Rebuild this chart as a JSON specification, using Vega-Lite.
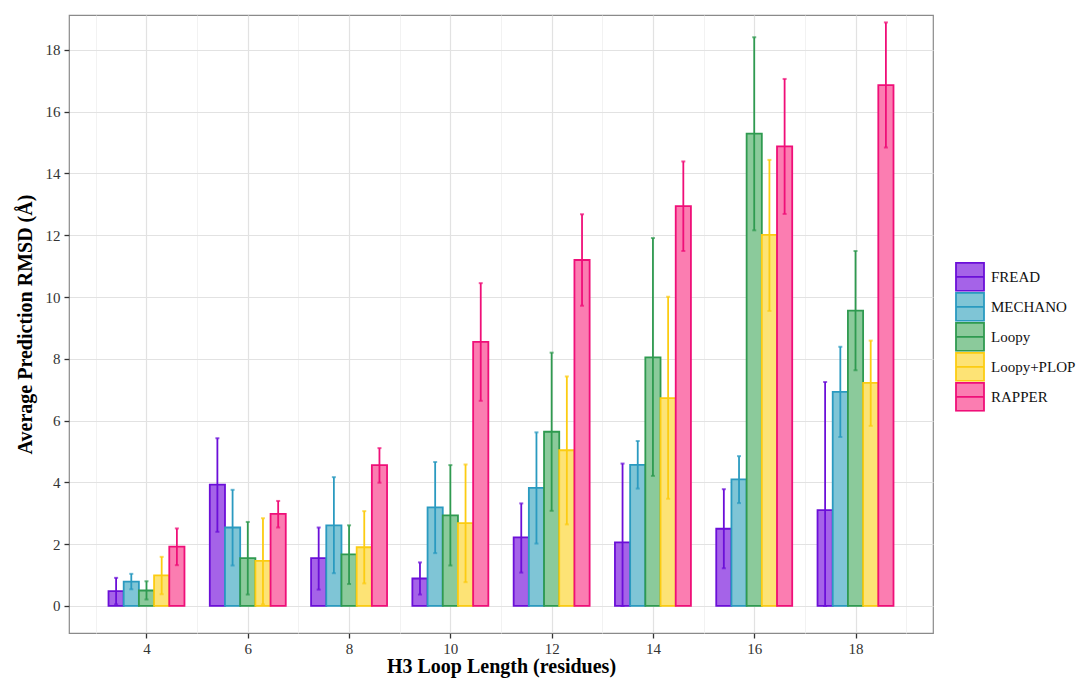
{
  "$schema": "https://vega.github.io/schema/vega-lite/v6.json",
  "width": 864,
  "height": 618,
  "autosize": {"type": "none"},
  "padding": {"left": 69, "top": 15, "right": 151, "bottom": 46},
  "background": "white",
  "config": {
    "view": {"stroke": "#8a8a8a", "strokeWidth": 1.2},
    "font": "Liberation Serif",
    "axis": {
      "domain": false,
      "labelFont": "Liberation Serif",
      "labelFontSize": 15,
      "labelColor": "#333333",
      "tickColor": "#333333",
      "tickSize": 5,
      "tickWidth": 1.3,
      "titleFont": "Liberation Serif",
      "titleFontSize": 20,
      "titleFontWeight": "bold",
      "titleColor": "#000000"
    }
  },
  "datasets": {
    "rmsd": [
      {"length": 4, "method": "FREAD", "rmsd": 0.48, "lo": 0.05, "hi": 0.91},
      {"length": 4, "method": "MECHANO", "rmsd": 0.79, "lo": 0.54, "hi": 1.04},
      {"length": 4, "method": "Loopy", "rmsd": 0.50, "lo": 0.21, "hi": 0.80},
      {"length": 4, "method": "Loopy+PLOP", "rmsd": 0.99, "lo": 0.38, "hi": 1.59},
      {"length": 4, "method": "RAPPER", "rmsd": 1.92, "lo": 1.32, "hi": 2.51},
      {"length": 6, "method": "FREAD", "rmsd": 3.93, "lo": 2.40, "hi": 5.43},
      {"length": 6, "method": "MECHANO", "rmsd": 2.54, "lo": 1.31, "hi": 3.76},
      {"length": 6, "method": "Loopy", "rmsd": 1.55, "lo": 0.37, "hi": 2.72},
      {"length": 6, "method": "Loopy+PLOP", "rmsd": 1.46, "lo": 0.05, "hi": 2.84},
      {"length": 6, "method": "RAPPER", "rmsd": 2.98, "lo": 2.54, "hi": 3.40},
      {"length": 8, "method": "FREAD", "rmsd": 1.55, "lo": 0.53, "hi": 2.54},
      {"length": 8, "method": "MECHANO", "rmsd": 2.61, "lo": 1.06, "hi": 4.17},
      {"length": 8, "method": "Loopy", "rmsd": 1.67, "lo": 0.71, "hi": 2.61},
      {"length": 8, "method": "Loopy+PLOP", "rmsd": 1.90, "lo": 0.73, "hi": 3.07},
      {"length": 8, "method": "RAPPER", "rmsd": 4.56, "lo": 3.99, "hi": 5.11},
      {"length": 10, "method": "FREAD", "rmsd": 0.89, "lo": 0.37, "hi": 1.41},
      {"length": 10, "method": "MECHANO", "rmsd": 3.19, "lo": 1.71, "hi": 4.66},
      {"length": 10, "method": "Loopy", "rmsd": 2.93, "lo": 1.31, "hi": 4.56},
      {"length": 10, "method": "Loopy+PLOP", "rmsd": 2.68, "lo": 0.77, "hi": 4.58},
      {"length": 10, "method": "RAPPER", "rmsd": 8.55, "lo": 6.64, "hi": 10.45},
      {"length": 12, "method": "FREAD", "rmsd": 2.22, "lo": 1.08, "hi": 3.32},
      {"length": 12, "method": "MECHANO", "rmsd": 3.82, "lo": 2.02, "hi": 5.62},
      {"length": 12, "method": "Loopy", "rmsd": 5.64, "lo": 3.08, "hi": 8.20},
      {"length": 12, "method": "Loopy+PLOP", "rmsd": 5.04, "lo": 2.64, "hi": 7.43},
      {"length": 12, "method": "RAPPER", "rmsd": 11.20, "lo": 9.72, "hi": 12.68},
      {"length": 14, "method": "FREAD", "rmsd": 2.06, "lo": 0.0, "hi": 4.61},
      {"length": 14, "method": "MECHANO", "rmsd": 4.57, "lo": 3.80, "hi": 5.34},
      {"length": 14, "method": "Loopy", "rmsd": 8.05, "lo": 4.21, "hi": 11.91},
      {"length": 14, "method": "Loopy+PLOP", "rmsd": 6.73, "lo": 3.47, "hi": 10.01},
      {"length": 14, "method": "RAPPER", "rmsd": 12.94, "lo": 11.49, "hi": 14.39},
      {"length": 16, "method": "FREAD", "rmsd": 2.50, "lo": 1.22, "hi": 3.78},
      {"length": 16, "method": "MECHANO", "rmsd": 4.10, "lo": 3.33, "hi": 4.85},
      {"length": 16, "method": "Loopy", "rmsd": 15.29, "lo": 12.16, "hi": 18.41},
      {"length": 16, "method": "Loopy+PLOP", "rmsd": 12.01, "lo": 9.55, "hi": 14.44},
      {"length": 16, "method": "RAPPER", "rmsd": 14.88, "lo": 12.69, "hi": 17.06},
      {"length": 18, "method": "FREAD", "rmsd": 3.10, "lo": 0.0, "hi": 7.25},
      {"length": 18, "method": "MECHANO", "rmsd": 6.93, "lo": 5.47, "hi": 8.39},
      {"length": 18, "method": "Loopy", "rmsd": 9.56, "lo": 7.63, "hi": 11.49},
      {"length": 18, "method": "Loopy+PLOP", "rmsd": 7.22, "lo": 5.83, "hi": 8.59},
      {"length": 18, "method": "RAPPER", "rmsd": 16.86, "lo": 14.84, "hi": 18.89}
    ]
  },
  "data": {"name": "rmsd"},
  "layer": [
    {
      "mark": {"type": "point", "opacity": 0},
      "encoding": {
        "x": {
          "field": "length",
          "type": "quantitative",
          "scale": {"domain": [2.47, 19.53], "nice": false, "zero": false},
          "axis": {
            "orient": "bottom",
            "values": [3, 4, 5, 6, 7, 8, 9, 10, 11, 12, 13, 14, 15, 16, 17, 18, 19],
            "labelExpr": "datum.value % 2 === 0 ? datum.label : ''",
            "labelOverlap": false,
            "labelFlush": false,
            "labelPadding": 3,
            "grid": true,
            "gridColor": {"condition": {"test": "datum.value % 2 === 0", "value": "#e2e2e2"}, "value": "#efefef"},
            "gridWidth": {"condition": {"test": "datum.value % 2 === 0", "value": 1.2}, "value": 0.8},
            "tickOpacity": {"condition": {"test": "datum.value % 2 === 0", "value": 1}, "value": 0},
            "title": "H3 Loop Length (residues)",
            "titlePadding": 0
          }
        },
        "y": {
          "field": "rmsd",
          "type": "quantitative",
          "scale": {"domain": [-0.875, 19.13], "nice": false, "zero": false},
          "axis": {
            "values": [0, 1, 2, 3, 4, 5, 6, 7, 8, 9, 10, 11, 12, 13, 14, 15, 16, 17, 18, 19],
            "labelExpr": "datum.value % 2 === 0 ? datum.label : ''",
            "labelOverlap": false,
            "labelFlush": false,
            "labelPadding": 4,
            "grid": true,
            "gridColor": {"condition": {"test": "datum.value % 2 === 0", "value": "#e2e2e2"}, "value": "#efefef"},
            "gridWidth": {"condition": {"test": "datum.value % 2 === 0", "value": 1.2}, "value": 0.8},
            "tickOpacity": {"condition": {"test": "datum.value % 2 === 0", "value": 1}, "value": 0},
            "title": "Average Prediction RMSD (Å)",
            "titlePadding": 10
          }
        }
      }
    },
    {
      "mark": {"type": "bar", "strokeWidth": 1.8, "fillOpacity": 1},
      "encoding": {
        "x": {"field": "length", "type": "ordinal", "scale": {"paddingInner": 0.25, "paddingOuter": 0.39}, "axis": null},
        "xOffset": {"field": "method", "type": "nominal", "scale": {"domain": ["FREAD", "MECHANO", "Loopy", "Loopy+PLOP", "RAPPER"], "paddingInner": 0, "paddingOuter": 0}},
        "y": {"field": "rmsd", "type": "quantitative"},
        "y2": {"datum": 0},
        "fill": {
          "field": "method",
          "type": "nominal",
          "scale": {"domain": ["FREAD", "MECHANO", "Loopy", "Loopy+PLOP", "RAPPER"], "range": ["#a563e8", "#7fc5d6", "#8bca9b", "#fde375", "#fb7db1"]},
          "legend": {
            "orient": "none",
            "legendX": 886,
            "legendY": 247,
            "title": null,
            "symbolType": "M-1,-1H1V1H-1Z M-1,0H1",
            "symbolSize": 784,
            "symbolStrokeWidth": 1.8,
            "symbolOpacity": 1,
            "labelFont": "Liberation Serif",
            "labelFontSize": 15,
            "labelColor": "#111111",
            "labelOffset": 6,
            "clipHeight": 29.7,
            "rowPadding": 0
          }
        },
        "stroke": {
          "field": "method",
          "type": "nominal",
          "scale": {"domain": ["FREAD", "MECHANO", "Loopy", "Loopy+PLOP", "RAPPER"], "range": ["#6b0fd8", "#2a9ac0", "#2f9a50", "#fccc12", "#ef0f78"]},
          "legend": {
            "orient": "none",
            "legendX": 886,
            "legendY": 247,
            "title": null,
            "symbolType": "M-1,-1H1V1H-1Z M-1,0H1",
            "symbolSize": 784,
            "symbolStrokeWidth": 1.8,
            "symbolOpacity": 1,
            "labelFont": "Liberation Serif",
            "labelFontSize": 15,
            "labelColor": "#111111",
            "labelOffset": 6,
            "clipHeight": 29.7,
            "rowPadding": 0
          }
        }
      }
    },
    {
      "mark": {"type": "rule", "strokeWidth": 1.8},
      "encoding": {
        "x": {"field": "length", "type": "ordinal", "scale": {"paddingInner": 0.25, "paddingOuter": 0.39}, "axis": null},
        "xOffset": {"field": "method", "type": "nominal", "scale": {"domain": ["FREAD", "MECHANO", "Loopy", "Loopy+PLOP", "RAPPER"], "paddingInner": 0, "paddingOuter": 0}},
        "y": {"field": "lo", "type": "quantitative"},
        "y2": {"field": "hi"},
        "stroke": {"field": "method", "type": "nominal"}
      }
    },
    {
      "mark": {"type": "tick", "size": 4, "thickness": 2},
      "encoding": {
        "x": {"field": "length", "type": "ordinal", "scale": {"paddingInner": 0.25, "paddingOuter": 0.39}, "axis": null},
        "xOffset": {"field": "method", "type": "nominal", "scale": {"domain": ["FREAD", "MECHANO", "Loopy", "Loopy+PLOP", "RAPPER"], "paddingInner": 0, "paddingOuter": 0}},
        "y": {"field": "hi", "type": "quantitative"},
        "color": {"field": "method", "type": "nominal", "legend": null, "scale": {"domain": ["FREAD", "MECHANO", "Loopy", "Loopy+PLOP", "RAPPER"], "range": ["#6b0fd8", "#2a9ac0", "#2f9a50", "#fccc12", "#ef0f78"]}}
      }
    },
    {
      "mark": {"type": "tick", "size": 4, "thickness": 2},
      "encoding": {
        "x": {"field": "length", "type": "ordinal", "scale": {"paddingInner": 0.25, "paddingOuter": 0.39}, "axis": null},
        "xOffset": {"field": "method", "type": "nominal", "scale": {"domain": ["FREAD", "MECHANO", "Loopy", "Loopy+PLOP", "RAPPER"], "paddingInner": 0, "paddingOuter": 0}},
        "y": {"field": "lo", "type": "quantitative"},
        "color": {"field": "method", "type": "nominal", "legend": null}
      }
    }
  ],
  "resolve": {"scale": {"x": "independent"}, "axis": {"x": "independent"}}
}
